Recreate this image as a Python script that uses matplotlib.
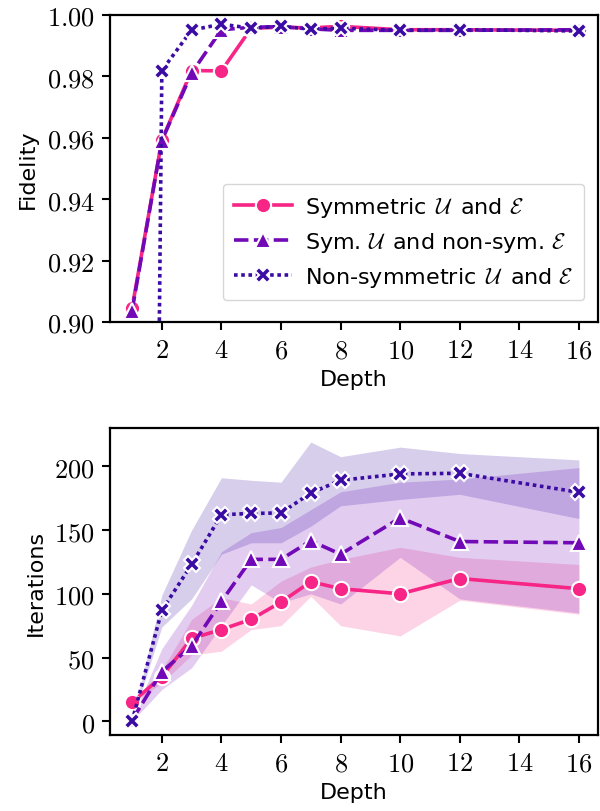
import matplotlib
matplotlib.use("Agg")
import matplotlib.pyplot as plt
from matplotlib.ticker import FuncFormatter, MultipleLocator

plt.rcParams["mathtext.fontset"] = "cm"
plt.rcParams["font.family"] = ["DejaVu Sans"]

depths = [1, 2, 3, 4, 5, 6, 7, 8, 10, 12, 16]

labels = [
    r"Symmetric $\,\mathcal{U}\,$ and $\mathcal{E}$",
    r"Sym. $\mathcal{U}\,$ and non-sym. $\mathcal{E}$",
    r"Non-symmetric $\,\mathcal{U}\,$ and $\mathcal{E}$",
]
colors = ["#F72585", "#7209B7", "#3A0CA3"]
markers = ["o", "^", "X"]
dashes = [(None, None), (4, 1.5), (1, 1)]

# Fidelity per depth
fid_sym = [0.9045, 0.9592, 0.9819, 0.9818, 0.9957, 0.9960, 0.9958, 0.9963, 0.9952, 0.9952, 0.9950]
fid_mixed = [0.9037, 0.9591, 0.9811, 0.9952, 0.9960, 0.9962, 0.9955, 0.9950, 0.9950, 0.9950, 0.9952]
fid_non = [0.0, 0.9819, 0.9951, 0.9970, 0.9957, 0.9963, 0.9954, 0.9957, 0.9950, 0.9952, 0.9948]

# Iterations per depth: mean with lower / upper band
it_sym = [15, 35, 65, 72, 80, 93.5, 109.5, 104, 100, 112, 104]
it_sym_lo = [14, 30, 52, 55, 72, 75, 98, 75, 67, 95, 84]
it_sym_hi = [16, 40, 80, 97, 92, 110, 121, 127, 136.5, 128.6, 123]

it_mixed = [1, 39, 59, 94, 127, 127, 141.6, 131, 159.5, 141, 140]
it_mixed_lo = [0, 25, 42, 75, 107, 93, 100, 92, 128.6, 96, 85]
it_mixed_hi = [2, 57, 91, 133, 148, 152, 166, 180, 187.5, 190, 199]

it_non = [0, 87, 123, 162, 163, 163.4, 179, 189, 194, 194.5, 179.6]
it_non_lo = [0, 74, 96, 131, 140, 140, 153, 169, 174, 178, 159]
it_non_hi = [0, 99, 150, 191, 189, 187.5, 219, 207.5, 215, 210, 205]

fig = plt.figure(figsize=(6.0, 8.12), dpi=100)
ax1 = fig.add_axes([110 / 600, 1 - 323 / 812, 488 / 600, 307 / 812])
ax2 = fig.add_axes([110 / 600, 1 - 736 / 812, 488 / 600, 307 / 812])

marker_sizes = {"o": 11, "^": 11, "X": 12}


def draw_line(ax, y, i):
    ln, = ax.plot(depths, y, color=colors[i], lw=2.6, marker=markers[i],
                  markersize=marker_sizes[markers[i]],
                  markeredgecolor="white", markeredgewidth=1.5,
                  label=labels[i])
    if dashes[i][0] is not None:
        ln.set_dashes(dashes[i])
    return ln


for i, y in enumerate([fid_sym, fid_mixed, fid_non]):
    draw_line(ax1, y, i)

bands = [(it_sym_lo, it_sym_hi), (it_mixed_lo, it_mixed_hi), (it_non_lo, it_non_hi)]
for i, (lo, hi) in enumerate(bands):
    ax2.fill_between(depths, lo, hi, color=colors[i], alpha=0.2, lw=0)
for i, y in enumerate([it_sym, it_mixed, it_non]):
    draw_line(ax2, y, i)

ax1.set_ylim(0.90, 1.00)
ax1.yaxis.set_major_locator(MultipleLocator(0.02))
ax1.yaxis.set_major_formatter(FuncFormatter(lambda v, p: f"${v:.2f}$"))
ax2.set_ylim(-10.7, 230)
ax2.yaxis.set_major_locator(MultipleLocator(50))
ax2.yaxis.set_major_formatter(FuncFormatter(lambda v, p: f"${v:.0f}$"))

for ax in (ax1, ax2):
    ax.set_xlim(0.26, 16.64)
    ax.xaxis.set_major_locator(MultipleLocator(2))
    ax.xaxis.set_major_formatter(FuncFormatter(lambda v, p: f"${v:.0f}$"))
    ax.tick_params(axis="both", which="major", labelsize=19, length=6,
                   width=1.5, direction="out", pad=5)
    for s in ax.spines.values():
        s.set_linewidth(1.6)
        s.set_color("black")
    ax.set_xlabel("Depth", fontsize=16, labelpad=4)

ax1.set_ylabel("Fidelity", fontsize=16, labelpad=6)
ax2.set_ylabel("Iterations", fontsize=16, labelpad=6)

ax1.legend(loc="lower right", fontsize=16, handlelength=2.6,
           framealpha=0.8, edgecolor="#cccccc", fancybox=True,
           borderpad=0.5, labelspacing=0.5, handletextpad=0.6,
           bbox_to_anchor=(0.995, 0.035))

fig.savefig("out.png", dpi=100)
